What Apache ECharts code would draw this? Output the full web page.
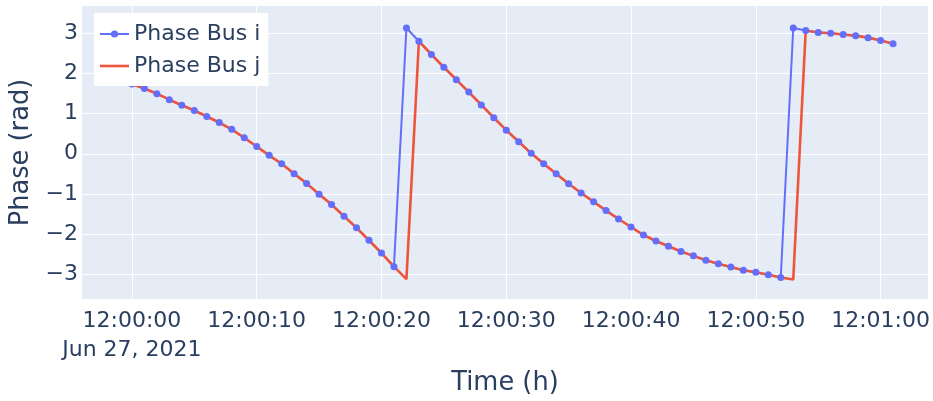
<!DOCTYPE html>
<html>
<head>
<meta charset="utf-8">
<script src="https://cdn.jsdelivr.net/npm/echarts@6/dist/echarts.min.js"></script>
<style>
html,body{margin:0;padding:0;background:#fff;}
#chart{width:933px;height:401px;}
</style>
</head>
<body>
<div id="chart"></div>
<script>
// seconds after 12:00:00 on Jun 27, 2021
const timeSec = [0,1,2,3,4,5,6,7,8,9,10,11,12,13,14,15,16,17,18,19,20,21,22,23,24,25,26,27,28,29,30,
  31,32,33,34,35,36,37,38,39,40,41,42,43,44,45,46,47,48,49,50,51,52,53,54,55,56,57,58,59,60,61];
const phaseBusI = [1.74,1.63,1.50,1.35,1.21,1.08,0.93,0.78,0.61,0.40,0.18,-0.04,-0.25,-0.50,-0.74,-1.01,
  -1.27,-1.56,-1.85,-2.16,-2.48,-2.82,3.14,2.81,2.48,2.16,1.85,1.54,1.22,0.90,0.59,0.30,0.01,-0.25,-0.50,
  -0.75,-0.98,-1.20,-1.42,-1.63,-1.83,-2.03,-2.18,-2.31,-2.44,-2.55,-2.66,-2.75,-2.83,-2.91,-2.96,-3.02,
  -3.09,3.14,3.08,3.03,3.01,2.98,2.95,2.90,2.83,2.75];
const phaseBusJ = [1.74,1.63,1.50,1.35,1.21,1.08,0.93,0.78,0.61,0.40,0.18,-0.04,-0.25,-0.50,-0.74,-1.01,
  -1.27,-1.56,-1.85,-2.16,-2.48,-2.82,-3.13,2.81,2.48,2.16,1.85,1.54,1.22,0.90,0.59,0.30,0.01,-0.25,-0.50,
  -0.75,-0.98,-1.20,-1.42,-1.63,-1.83,-2.03,-2.18,-2.31,-2.44,-2.55,-2.66,-2.75,-2.83,-2.91,-2.96,-3.02,
  -3.09,-3.14,3.08,3.03,3.01,2.98,2.95,2.90,2.83,2.75];
const xTicks = [0,10,20,30,40,50,60];
const yTicks = [-3,-2,-1,0,1,2,3];
const dateLabel = 'Jun 27, 2021';
const seriesNames = ['Phase Bus i','Phase Bus j'];

const FONT = 'DejaVu Sans';
const TXT = '#2a3f5f';
function pad(n){return (n<10?'0':'')+n;}
function fmtTime(s){
  const m = Math.floor(s/60), ss = s%60;
  return '12:' + pad(m) + ':' + pad(ss);
}
const chart = echarts.init(document.getElementById('chart'), null, {renderer:'canvas'});
chart.setOption({
  animation:false,
  backgroundColor:'#ffffff',
  textStyle:{fontFamily:FONT, color:TXT},
  grid:{left:82, right:3, top:6, bottom:98, show:true, backgroundColor:'#E5ECF6', borderWidth:0},
  legend:{
    show:true, orient:'vertical', left:94, top:13,
    backgroundColor:'#ffffff', padding:[10,8,9,5],
    itemWidth:29, itemHeight:9, itemGap:10,
    textStyle:{fontFamily:FONT, fontSize:22, color:TXT},
    data:[
      {name:seriesNames[0]},
      {name:seriesNames[1], icon:'path://M0,0h29v2.6h-29z'}
    ]
  },
  xAxis:{
    type:'value', min:-4.0, max:63.8,
    name:'Time (h)', nameLocation:'middle', nameGap:65,
    nameTextStyle:{fontFamily:FONT, fontSize:25.7, color:TXT},
    axisLine:{show:false},
    axisTick:{show:false, customValues:xTicks},
    splitLine:{show:true, lineStyle:{color:'#ffffff', width:1}},
    axisLabel:{
      customValues:xTicks, margin:8, fontFamily:FONT, fontSize:22, color:TXT, lineHeight:29,
      formatter:function(v){ return v===0 ? fmtTime(v)+'\n'+dateLabel : fmtTime(v); }
    }
  },
  yAxis:{
    type:'value', min:-3.63, max:3.69,
    name:'Phase (rad)', nameLocation:'middle', nameGap:46,
    nameTextStyle:{fontFamily:FONT, fontSize:25.7, color:TXT},
    axisLine:{show:false},
    axisTick:{show:false, customValues:yTicks},
    splitLine:{show:true, lineStyle:{color:'#ffffff', width:1}},
    axisLabel:{
      customValues:yTicks, margin:4, fontFamily:FONT, fontSize:22, color:TXT,
      formatter:function(v){ return v<0 ? '\u2212'+Math.abs(v) : String(v); }
    }
  },
  series:[
    {
      name:seriesNames[0], type:'line',
      data:timeSec.map((t,i)=>[t, phaseBusI[i]]),
      symbol:'circle', symbolSize:7, showSymbol:true,
      lineStyle:{color:'#636efa', width:2},
      itemStyle:{color:'#636efa'},
      color:'#636efa'
    },
    {
      name:seriesNames[1], type:'line',
      data:timeSec.map((t,i)=>[t, phaseBusJ[i]]),
      symbol:'none', showSymbol:false,
      lineStyle:{color:'#EF553B', width:2.6},
      itemStyle:{color:'#EF553B'},
      color:'#EF553B'
    }
  ]
});
</script>
</body>
</html>
